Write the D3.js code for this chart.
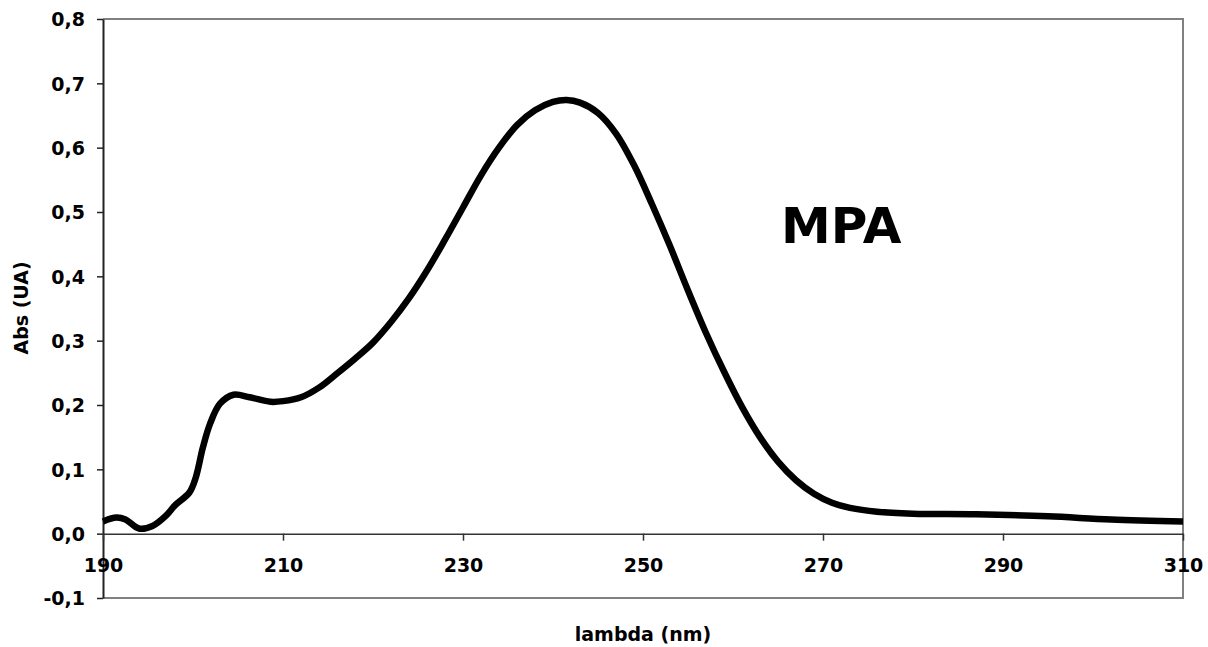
<!DOCTYPE html>
<html>
<head>
    <meta charset="utf-8"/>
    <title>MPA</title>
    <script src="https://d3js.org/d3.v7.min.js"></script>
    <style>
        html, body { margin: 0; padding: 0; background: #ffffff; }
        text { font-family: "DejaVu Sans", Verdana, sans-serif; font-weight: bold; }
    </style>
</head>
<body>
<div id="chart"></div>
<script>
    // spectrum
    const wavelength = [190, 191.5, 192.5, 194, 195.5, 197, 198, 199.6, 200.3, 201.1, 201.9, 203, 204.5,
        206.3, 208.6, 210, 212, 214, 216, 218, 220, 222, 224, 226, 228, 230, 232, 234, 236, 238, 240,
        241.5, 243, 245, 247, 249, 251, 253, 255, 257, 259, 261, 263, 265, 267, 269, 271, 273, 276,
        280, 287, 295, 302, 310]
    const absorbance = [0.019, 0.025, 0.022, 0.008, 0.012, 0.028, 0.044, 0.064, 0.087, 0.134, 0.171, 0.202, 0.216,
        0.212, 0.205, 0.206, 0.212, 0.227, 0.249, 0.272, 0.297, 0.329, 0.366, 0.409, 0.457, 0.507, 0.557,
        0.600, 0.635, 0.658, 0.671, 0.674, 0.670, 0.654, 0.622, 0.573, 0.512, 0.447, 0.378, 0.312, 0.252,
        0.197, 0.150, 0.112, 0.083, 0.062, 0.048, 0.040, 0.034, 0.031, 0.030, 0.027, 0.022, 0.019]

    const xTicks = [190, 210, 230, 250, 270, 290, 310]
    const yTicks = [-0.1, 0, 0.1, 0.2, 0.3, 0.4, 0.5, 0.6, 0.7, 0.8]

    const W = 1208, H = 647
    const plotLeft = 103, plotRight = 1183, plotTop = 19, plotBottom = 598

    const svg = d3.select('#chart').append('svg')
        .attr('width', W)
        .attr('height', H)

    const x = d3.scaleLinear().domain([190, 310]).range([plotLeft, plotRight])
    const y = d3.scaleLinear().domain([-0.1, 0.8]).range([plotBottom, plotTop])

    const fmt = v => d3.format('.1f')(v).replace('.', ',').replace('−', '-')

    // plot frame: grey top, right, bottom
    svg.append('path')
        .attr('d', `M${plotLeft},${plotTop}H${plotRight}V${plotBottom}H${plotLeft}`)
        .attr('fill', 'none')
        .attr('stroke', '#808080')
        .attr('stroke-width', 2)

    // y axis
    const yAxis = svg.append('g')
        .attr('transform', `translate(${plotLeft},0)`)
        .call(d3.axisLeft(y).tickValues(yTicks).tickFormat(fmt).tickSize(6).tickPadding(12).tickSizeOuter(0))
    yAxis.select('.domain').attr('stroke', '#222').attr('stroke-width', 2)
    yAxis.selectAll('.tick line').attr('stroke', '#222').attr('stroke-width', 1.5)
    yAxis.selectAll('.tick text')
        .attr('fill', '#000')
        .style('font-size', '19px')
        .attr('dy', '0.36em')

    // x axis on the zero line
    const xAxis = svg.append('g')
        .attr('transform', `translate(0,${y(0)})`)
        .call(d3.axisBottom(x).tickValues(xTicks).tickSize(7).tickPadding(18).tickSizeOuter(0))
    xAxis.select('.domain').attr('stroke', '#333').attr('stroke-width', 1.5)
    xAxis.selectAll('.tick line').attr('stroke', '#333').attr('stroke-width', 1.5)
    xAxis.selectAll('.tick text')
        .attr('fill', '#000')
        .style('font-size', '19px')

    // spectrum line
    const line = d3.line()
        .x((d, i) => x(wavelength[i]))
        .y(d => y(d))
        .curve(d3.curveCatmullRom.alpha(0.5))

    svg.append('path')
        .datum(absorbance)
        .attr('d', line)
        .attr('fill', 'none')
        .attr('stroke', '#000')
        .attr('stroke-width', 6.5)
        .attr('stroke-linejoin', 'round')

    // titles
    svg.append('text')
        .attr('x', 643)
        .attr('y', 641)
        .attr('text-anchor', 'middle')
        .style('font-size', '19px')
        .text('lambda (nm)')

    svg.append('text')
        .attr('transform', 'translate(28,308) rotate(-90)')
        .attr('text-anchor', 'middle')
        .style('font-size', '19px')
        .text('Abs (UA)')

    svg.append('text')
        .attr('x', 781)
        .attr('y', 243)
        .style('font-size', '50px')
        .text('MPA')
</script>
</body>
</html>
